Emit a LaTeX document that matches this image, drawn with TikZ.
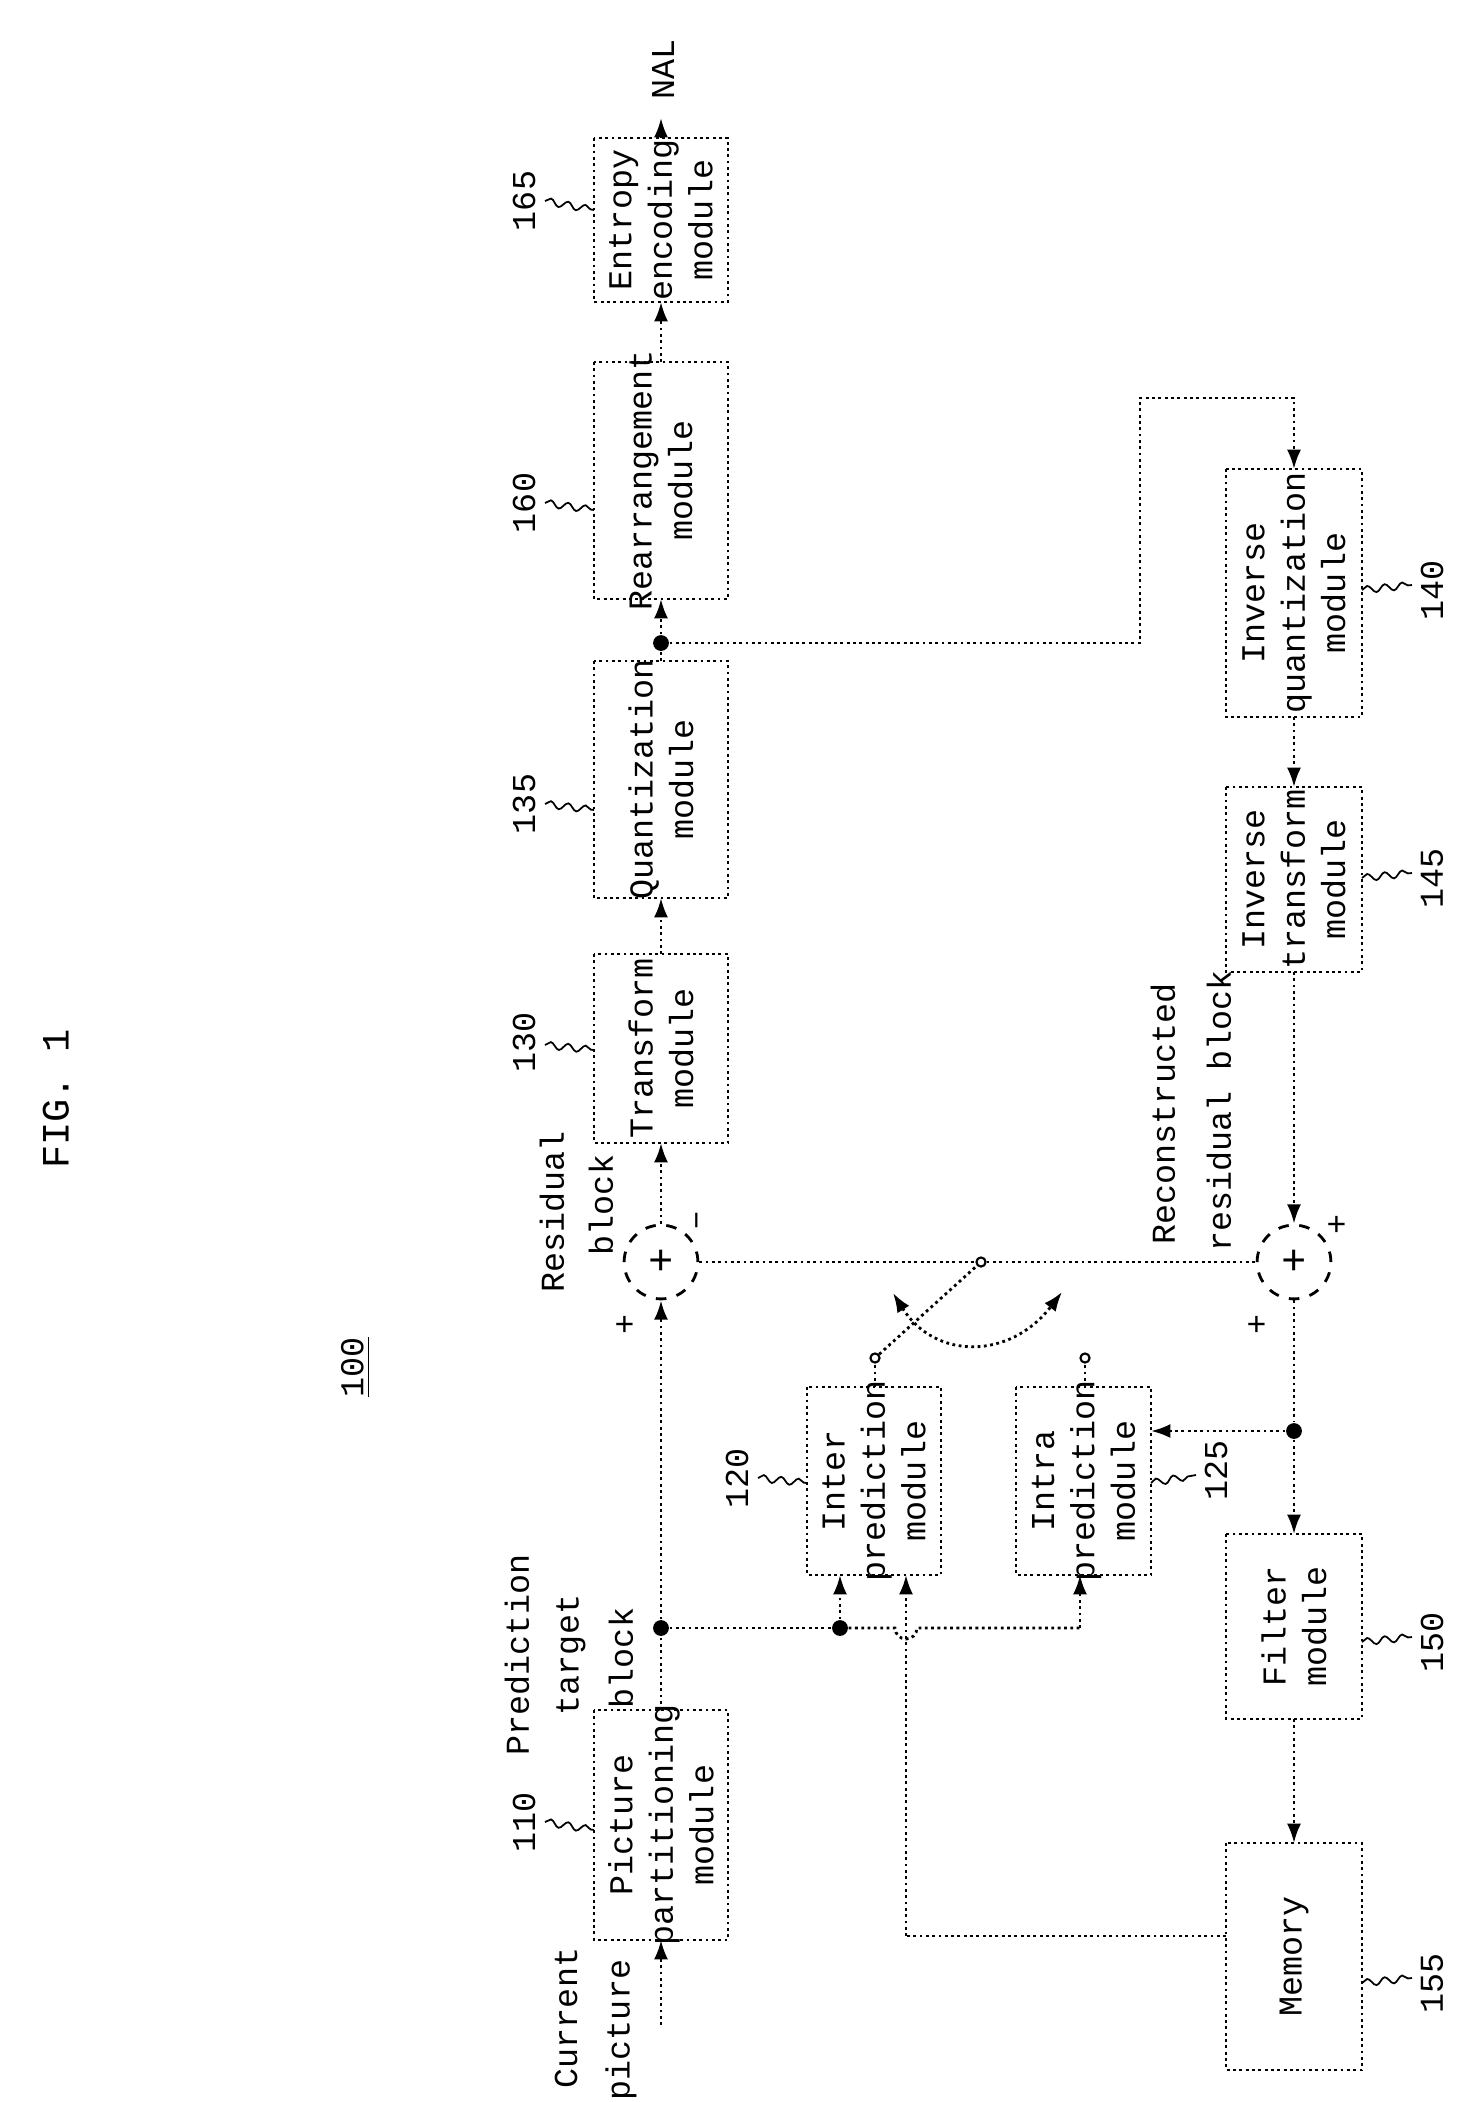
\documentclass[tikz,border=0pt]{standalone}
\usepackage{fontspec}
\setmainfont{Liberation Mono}
\usetikzlibrary{arrows.meta,decorations.pathmorphing}
\begin{document}
\begin{tikzpicture}[x=0.1mm,y=-0.1mm,
  ln/.style={densely dotted,line width=0.8pt},
  arr/.style={ln,-{Latex[length=5.5pt,width=4pt]}},
  arr2/.style={ln,{Latex[length=5.5pt,width=4pt]}-{Latex[length=5.5pt,width=4pt]}},
  box/.style={draw,densely dotted,line width=0.8pt,inner sep=0pt},
  txt/.style={rotate=90,font=\fontsize{9.5}{11.5}\selectfont,align=center},
  lab/.style={rotate=90,font=\fontsize{9.5}{11.5}\selectfont},
  dot/.style={circle,fill,inner sep=0pt,minimum size=4.5pt},
  sm/.style={circle,draw,fill=white,inner sep=0pt,minimum size=2.6pt,line width=0.6pt},
  add/.style={circle,draw,dashed,line width=0.8pt,minimum size=21pt,inner sep=0pt},
  lead/.style={line width=0.5pt,decorate,decoration={snake,amplitude=1pt,segment length=5pt}}]
\useasboundingbox (0,0) rectangle (1468,2102);
\newcommand\mybox[6]{\draw[box] (#2,#3) rectangle (#4,#5); \node[txt] (#1) at ({(#2+#4)/2},{(#3+#5)/2}) {#6};
  \coordinate (#1-t) at ({(#2+#4)/2},#3); \coordinate (#1-b) at ({(#2+#4)/2},#5);
  \coordinate (#1-l) at (#2,{(#3+#5)/2}); \coordinate (#1-r) at (#4,{(#3+#5)/2});}
\mybox{pp}{594}{1710}{728}{1940}{Picture\\partitioning\\module}
\mybox{tr}{594}{954}{728}{1143}{Transform\\module}
\mybox{qu}{594}{661}{728}{898}{Quantization\\module}
\mybox{re}{594}{362}{728}{599}{Rearrangement\\module}
\mybox{en}{594}{138}{728}{302}{Entropy\\encoding\\module}
\mybox{inter}{807}{1387}{941}{1575}{Inter\\prediction\\module}
\mybox{intra}{1016}{1387}{1151}{1575}{Intra\\prediction\\module}
\mybox{iq}{1226}{469}{1362}{717}{Inverse\\quantization\\module}
\mybox{it}{1226}{787}{1362}{972}{Inverse\\transform\\module}
\mybox{fi}{1226}{1534}{1362}{1719}{Filter\\module}
\mybox{me}{1226}{1843}{1362}{2070}{Memory}
% adders
\node[add] (a1) at (661,1262) {};
\node[font=\fontsize{12}{12}\selectfont] at (a1) {+};
\node[add] (a2) at (1294,1262) {};
\node[font=\fontsize{12}{12}\selectfont] at (a2) {+};
\node[lab] at (626,1324) {+};
\node[lab] at (700,1220) {\textendash};
\node[lab] at (1258,1324) {+};
\node[lab] at (1338,1224) {+};
% dots
\node[dot] (d1) at (661,1628) {};
\node[dot] (d2) at (840,1628) {};
\node[dot] (d3) at (661,643) {};
\node[dot] (d4) at (1294,1431) {};
\coordinate (c1) at (1080,1628);
\coordinate (m1) at (906,1936);
% input / output
\coordinate (cin) at (661,2025);
\coordinate (nal) at (661,118);
\draw[arr] (cin) -- (pp-b);
\draw[arr] (en-t) -- (nal);
\node[lab,anchor=west] at (663,112) {NAL};
% main path
\draw[ln] (pp-t) -- (d1);
\draw[arr] (d1) -- (a1);
\draw[arr] (a1) -- (tr-b);
\draw[arr] (tr-t) -- (qu-b);
\draw[ln] (qu-t) -- (d3);
\draw[arr] (d3) -- (re-b);
\draw[arr] (re-t) -- (en-b);
% feedback
\draw[arr] (d3) -- (1140,643) -- (1140,398) -- (1294,398) -- (iq-t);
\draw[arr] (iq-b) -- (it-t);
\draw[arr] (it-b) -- (a2);
\draw[ln] (a2) -- (d4);
\draw[arr] (d4) -- (intra-r |- d4);
\draw[arr] (d4) -- (fi-t);
\draw[arr] (fi-b) -- (me-t);
% prediction inputs
\draw[ln] (d1) -- (d2);
\draw[arr] (d2) -- (840,1575);
\draw[ln] (d2) -- (895,1628) arc[start angle=180,end angle=0,radius=11] -- (c1);
\draw[arr] (c1) -- (intra-b -| c1);
\draw[ln] (me-l |- m1) -- (m1);
\draw[arr] (m1) -- (906,1575);
% switch
\node[sm] (s1) at (875,1358) {};
\node[sm] (s2) at (1085,1358) {};
\node[sm] (s3) at (981,1262) {};
\draw[ln] (inter-t -| s1) -- (s1);
\draw[ln] (intra-t -| s2) -- (s2);
\draw[ln] (a1) -- (s3);
\draw[ln] (s3) -- (a2);
\draw[ln] (s1) -- (s3);
\draw[arr2] (893,1293) .. controls (935,1360) and (1010,1360) .. (1062,1292);
% text labels
\node[lab] at (552,1212) {Residual};
\node[lab] at (601,1205) {block};
\node[lab] at (1163,1114) {Reconstructed};
\node[lab] at (1219,1111) {residual block};
\node[lab] at (517,1655) {Prediction};
\node[lab] at (571,1655) {target};
\node[lab] at (621,1658) {block};
\node[lab] at (566,2018) {Current};
\node[lab] at (621,2030) {picture};
\node[rotate=90,font=\fontsize{11}{13}\selectfont] at (56,1099) {FIG.\ 1};
\node[lab] (n100) at (356,1367) {\underline{100}};
% reference numerals
\node[lab] at (524,1822) {110}; \draw[lead] (545,1822) -- (594,1830);
\node[lab] at (524,1042) {130}; \draw[lead] (545,1045) -- (594,1050);
\node[lab] at (524,804) {135}; \draw[lead] (545,804) -- (594,810);
\node[lab] at (524,503) {160}; \draw[lead] (545,503) -- (594,510);
\node[lab] at (524,201) {165}; \draw[lead] (545,201) -- (594,210);
\node[lab] at (737,1478) {120}; \draw[lead] (758,1478) -- (807,1483);
\node[lab] at (1216,1470) {125}; \draw[lead] (1151,1483) -- (1196,1475);
\node[lab] at (1432,590) {140}; \draw[lead] (1362,590) -- (1412,585);
\node[lab] at (1432,878) {145}; \draw[lead] (1362,878) -- (1412,873);
\node[lab] at (1432,1642) {150}; \draw[lead] (1362,1642) -- (1412,1637);
\node[lab] at (1432,1983) {155}; \draw[lead] (1362,1983) -- (1412,1978);
\end{tikzpicture}
\end{document}
